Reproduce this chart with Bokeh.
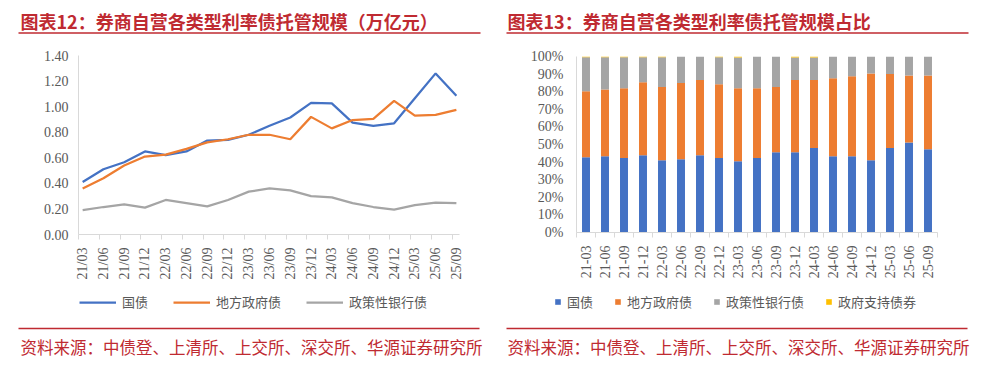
import math
from bokeh.plotting import figure
from bokeh.models import (Range1d, FixedTicker, PrintfTickFormatter, Legend, LegendItem,
                          Label, BoxAnnotation, ColumnDataSource)
from bokeh.layouts import row, column
from bokeh.embed import file_html
from bokeh.resources import INLINE

# ---------------- data ----------------
categories_line = ["21/03", "21/06", "21/09", "21/12", "22/03", "22/06", "22/09", "22/12",
                   "23/03", "23/06", "23/09", "23/12", "24/03", "24/06", "24/09", "24/12",
                   "25/03", "25/06", "25/09"]
categories_bar = ["21-03", "21-06", "21-09", "21-12", "22-03", "22-06", "22-09", "22-12",
                  "23-03", "23-06", "23-09", "23-12", "24-03", "24-06", "24-09", "24-12",
                  "25-03", "25-06", "25-09"]

# 托管规模（万亿元）
guozhai = [0.41, 0.51, 0.565, 0.65, 0.62, 0.65, 0.735, 0.74, 0.78, 0.85, 0.915, 1.03,
           1.025, 0.875, 0.85, 0.87, 1.065, 1.26, 1.085]
difang = [0.36, 0.44, 0.54, 0.61, 0.625, 0.67, 0.72, 0.745, 0.78, 0.78, 0.745, 0.92,
          0.83, 0.895, 0.905, 1.045, 0.93, 0.935, 0.975]
zhengce = [0.19, 0.215, 0.235, 0.21, 0.27, 0.245, 0.22, 0.27, 0.335, 0.36, 0.345, 0.30,
           0.29, 0.245, 0.215, 0.195, 0.23, 0.25, 0.245]

# 占比（%）
share_guozhai = [42.7, 43.3, 42.3, 43.9, 41.0, 41.6, 43.9, 42.3, 40.5, 42.3, 45.6, 45.6,
                 48.0, 43.3, 43.3, 41.0, 48.0, 51.2, 47.3]
share_difang = [37.5, 38.0, 39.7, 41.5, 41.6, 43.3, 42.7, 42.0, 41.5, 39.7, 37.0, 41.0,
                38.6, 44.4, 45.5, 49.4, 42.0, 38.0, 41.9]
share_zhengce = [19.4, 18.3, 17.6, 14.2, 17.0, 15.1, 13.4, 15.3, 17.5, 18.0, 17.4, 12.8,
                 12.9, 12.3, 11.2, 9.6, 10.0, 10.8, 10.8]
share_zhichi = [0.4, 0.4, 0.4, 0.4, 0.4, 0.0, 0.0, 0.4, 0.5, 0.0, 0.0, 0.6,
                0.5, 0.0, 0.0, 0.0, 0.0, 0.0, 0.0]

yticks_left = [0.0, 0.2, 0.4, 0.6, 0.8, 1.0, 1.2, 1.4]
yticks_right = [0, 10, 20, 30, 40, 50, 60, 70, 80, 90, 100]

line_names = ["国债", "地方政府债", "政策性银行债"]
bar_names = ["国债", "地方政府债", "政策性银行债", "政府支持债券"]

title_left = "图表12：券商自营各类型利率债托管规模（万亿元）"
title_right = "图表13：券商自营各类型利率债托管规模占比"
source_text = "资料来源：中债登、上清所、上交所、深交所、华源证券研究所"

# ---------------- style ----------------
RED = "#BF2A31"
CJK = "Noto Sans CJK SC"
SERIF = "Liberation Serif"
TICK = "#595959"
AXIS = "#D9D9D9"
BLUE, ORANGE, GRAY, YELLOW = "#4472C4", "#ED7D31", "#A5A5A5", "#FFC000"
LINE_COLORS = [BLUE, ORANGE, GRAY]
BAR_COLORS = [BLUE, ORANGE, GRAY, YELLOW]
COL_W = 494
TOP_H, CHART_H, BOT_H = 38, 252, 76


def canvas(height):
    p = figure(width=COL_W, height=height, x_range=Range1d(0, COL_W), y_range=Range1d(height, 0),
               output_backend="svg", toolbar_location=None, x_axis_location=None,
               y_axis_location=None, min_border=0, outline_line_color=None,
               frame_align=False)
    p.grid.visible = False
    return p


def red_rule(p, left, right, y):
    p.add_layout(BoxAnnotation(left=left, right=right, top=y - 0.75, bottom=y + 0.75,
                               fill_color=RED, fill_alpha=1, line_color=None))


def red_text(p, text, x, y, size, bold):
    p.add_layout(Label(x=x, y=y, text=text, text_font=CJK, text_font_size=f"{size}px",
                       text_font_style="bold" if bold else "normal", text_color=RED,
                       text_baseline="middle", text_align="left"))


def title_banner(text, tx, l, r):
    p = canvas(TOP_H)
    red_rule(p, l, r, 32.5)
    red_text(p, text, tx, 20, 18, True)
    return p


def style_axes(p):
    for ax in (p.xaxis[0], p.yaxis[0]):
        ax.axis_line_color = AXIS
        ax.axis_line_width = 1
        ax.major_label_text_font = SERIF
        ax.major_label_text_font_size = "14px"
        ax.major_label_text_color = TICK
        ax.major_tick_line_color = None
        ax.minor_tick_line_color = None
    p.grid.visible = False


def legend(items, x, glyph_w, glyph_h, spacing):
    return Legend(items=items, orientation="horizontal", location=(x, BOT_H - 12 - 9),
                  spacing=spacing, glyph_width=glyph_w, glyph_height=glyph_h,
                  label_standoff=6, padding=0, margin=0, border_line_color=None,
                  background_fill_alpha=0, label_text_font=CJK,
                  label_text_font_size="13px", label_text_color=TICK,
                  label_text_baseline="middle")


xs = list(range(len(categories_line)))
src_line = ColumnDataSource(dict(x=xs, guozhai=guozhai, difang=difang, zhengce=zhengce))
src_bar = ColumnDataSource(dict(x=xs, guozhai=share_guozhai, difang=share_difang,
                                zhengce=share_zhengce, zhichi=share_zhichi))

# ---------------- left chart ----------------
p1 = figure(width=COL_W, height=CHART_H, x_range=Range1d(-0.2, 18.15), y_range=Range1d(0, 1.4),
            output_backend="svg", toolbar_location=None, outline_line_color=None,
            frame_align=False,
            min_border_left=78, min_border_right=35, min_border_top=17, min_border_bottom=56)
style_axes(p1)
p1.xaxis.ticker = FixedTicker(ticks=xs, minor_ticks=[i - 0.2 for i in xs])
p1.xaxis.major_label_overrides = {i: c for i, c in enumerate(categories_line)}
p1.xaxis.major_label_orientation = math.pi / 2
p1.xaxis.minor_tick_line_color = AXIS
p1.xaxis.minor_tick_out = 5
p1.xaxis.minor_tick_in = 0
p1.xaxis.major_tick_out = 0
p1.xaxis.major_label_standoff = 8
p1.yaxis.ticker = FixedTicker(ticks=yticks_left)
p1.yaxis.formatter = PrintfTickFormatter(format="%.2f")
p1.yaxis.major_tick_out = 0
p1.yaxis.major_label_standoff = 10

for col, c in zip(["guozhai", "difang", "zhengce"], LINE_COLORS):
    p1.line("x", col, source=src_line, line_color=c, line_width=2.25)

# ---------------- right chart ----------------
p2 = figure(width=COL_W, height=CHART_H, x_range=Range1d(-0.5, 18.5), y_range=Range1d(0, 100),
            output_backend="svg", toolbar_location=None, outline_line_color=None,
            frame_align=False,
            min_border_left=82, min_border_right=51, min_border_top=18, min_border_bottom=58)
style_axes(p2)
p2.xaxis.ticker = FixedTicker(ticks=xs, minor_ticks=[i - 0.5 for i in xs] + [18.5])
p2.xaxis.major_label_overrides = {i: c for i, c in enumerate(categories_bar)}
p2.xaxis.major_label_orientation = math.pi / 2
p2.xaxis.minor_tick_line_color = AXIS
p2.xaxis.minor_tick_out = 5
p2.xaxis.minor_tick_in = 0
p2.xaxis.major_tick_out = 0
p2.xaxis.major_label_standoff = 8
p2.yaxis.ticker = FixedTicker(ticks=yticks_right)
p2.yaxis.formatter = PrintfTickFormatter(format="%d%%")
p2.yaxis.major_tick_out = 0
p2.yaxis.major_label_standoff = 13

STACK = ["guozhai", "difang", "zhengce", "zhichi"]
p2.vbar_stack(STACK, x="x", width=0.42, color=BAR_COLORS, line_color=None, source=src_bar)

# ---------------- bottom banners (legend + source) ----------------
# Legend keys: the same series, drawn on a y range that lies outside this strip's frame,
# so only their legend entries are seen here.
b1 = canvas(BOT_H)
b1.extra_y_ranges = {"off": Range1d(50, 51)}
k1 = [b1.line("x", col, source=src_line, line_color=c, line_width=2.25, y_range_name="off")
      for col, c in zip(["guozhai", "difang", "zhengce"], LINE_COLORS)]
b1.add_layout(legend([LegendItem(label=n, renderers=[r]) for n, r in zip(line_names, k1)],
                     79, 37, 14, 25))
red_rule(b1, 18, 479, 38)
red_text(b1, source_text, 20, 56, 16.5, False)

b2 = canvas(BOT_H)
b2.extra_y_ranges = {"off": Range1d(5000, 5001)}
k2 = b2.vbar_stack(STACK, x="x", width=0.42, color=BAR_COLORS, line_color=None,
                   source=src_bar, y_range_name="off")
b2.add_layout(legend([LegendItem(label=n, renderers=[r]) for n, r in zip(bar_names, k2)],
                     60, 7, 7, 21))
red_rule(b2, 12, 473, 38)
red_text(b2, source_text, 13, 56, 16.5, False)

t1 = title_banner(title_left, 20, 18, 480)
t2 = title_banner(title_right, 13, 12, 474)

layout = row(column(t1, p1, b1), column(t2, p2, b2))
open("out.html", "w").write(file_html(layout, INLINE))
